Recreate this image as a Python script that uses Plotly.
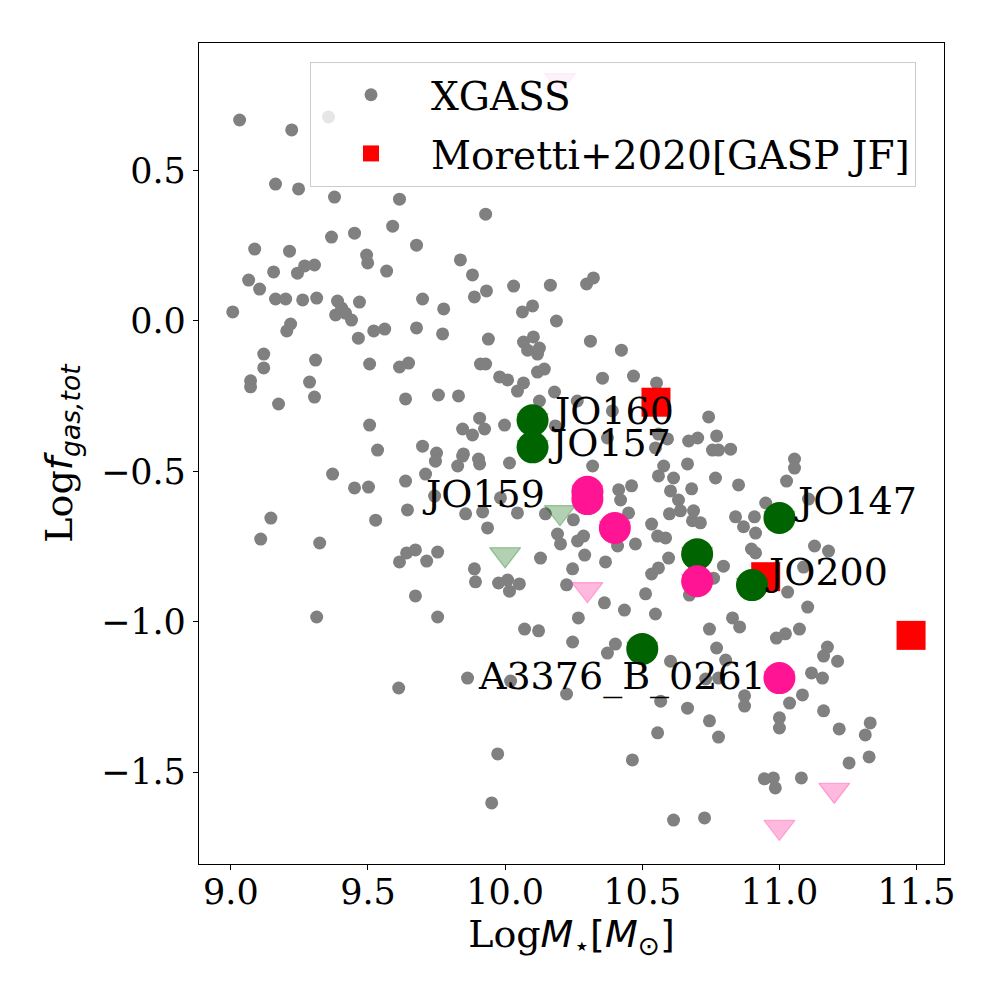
import plotly.graph_objects as go

# ── Data ───────────────────────────────────────────────────────────────────
xgass_mass = [
    9.032, 9.222, 9.356, 9.163, 9.247, 9.378, 9.615, 9.590, 9.451, 9.367,
    9.677, 9.087, 9.214, 9.495, 9.499, 9.568, 9.305, 9.269, 9.243, 9.156,
    9.065, 9.105, 9.163, 9.200, 9.262, 9.313, 9.389, 9.469, 9.699, 9.776,
    9.007, 9.404, 9.418, 9.382, 9.440, 9.218, 9.204, 9.521, 9.561, 9.465,
    9.677, 9.772, 9.120, 9.120, 9.309, 9.506, 9.615, 9.648, 9.072, 9.072,
    9.287, 9.305, 9.174, 9.637, 9.757, 9.506, 9.535, 9.699, 9.750, 9.746,
    9.371, 9.451, 9.502, 9.637, 9.710, 9.743, 9.644, 9.528, 9.146, 9.109,
    9.324, 9.615, 9.641, 9.673, 9.714, 9.754, 9.673, 9.313, 9.754, 9.612,
    9.929, 9.837, 9.881, 9.932, 9.888, 10.031, 10.165, 10.297, 10.322, 10.063,
    10.100, 10.187, 9.939, 10.067, 10.103, 10.082, 10.125, 10.118, 10.311, 10.424,
    9.910, 9.929, 10.118, 10.143, 9.980, 10.009, 10.067, 10.045, 10.355, 10.468,
    10.552, 10.180, 9.830, 10.125, 9.907, 9.998, 9.845, 9.881, 9.925, 10.183,
    10.263, 10.391, 10.373, 10.559, 10.592, 10.548, 9.848, 9.903, 10.669, 10.742,
    10.016, 9.907, 9.827, 9.845, 10.319, 10.578, 10.559, 10.614, 10.665, 10.461,
    10.414, 10.421, 10.603, 10.632, 10.639, 10.599, 9.983, 9.856, 9.918, 10.045,
    10.147, 10.249, 9.936, 10.450, 10.534, 10.191, 10.202, 10.264, 10.286, 10.410,
    10.475, 10.556, 10.585, 10.129, 10.290, 10.366, 10.596, 9.888, 9.892, 10.246,
    10.559, 10.534, 9.976, 10.009, 10.016, 10.052, 10.224, 10.512, 10.362, 10.435,
    10.548, 10.267, 10.071, 10.122, 10.246, 10.373, 10.402, 10.603, 9.863, 10.020,
    10.224, 10.567, 10.665, 10.702, 10.771, 10.756, 10.778, 10.822, 11.055, 11.055,
    10.767, 11.026, 10.851, 10.680, 10.950, 11.106, 10.687, 10.712, 10.683, 10.840,
    10.869, 10.909, 10.913, 10.898, 10.913, 11.128, 11.179, 11.088, 10.796, 10.760,
    10.672, 10.891, 11.030, 11.103, 10.829, 10.855, 10.745, 11.073, 10.989, 11.022,
    10.771, 11.175, 11.161, 11.212, 10.804, 11.117, 11.157, 10.731, 10.778, 10.873,
    10.873, 11.084, 11.037, 11.000, 11.000, 11.161, 10.745, 10.778, 11.218, 11.331,
    11.313, 11.327, 11.254, 10.945, 10.978, 10.985, 11.080, 10.727, 10.556, 9.973,
    10.464, 9.951, 10.614,
]
xgass_fgas = [
    0.668, 0.635, 0.678, 0.455, 0.439, 0.412, 0.405, 0.315, 0.292, 0.279,
    0.252, 0.239, 0.232, 0.219, 0.193, 0.166, 0.186, 0.183, 0.159, 0.163,
    0.136, 0.106, 0.073, 0.073, 0.070, 0.076, 0.066, 0.063, 0.073, 0.040,
    0.030, 0.043, 0.026, 0.020, 0.003, -0.010, -0.033, -0.033, -0.027, -0.057,
    -0.023, -0.043, -0.110, -0.156, -0.130, -0.143, -0.153, -0.140, -0.199, -0.219,
    -0.203, -0.253, -0.276, -0.259, -0.246, -0.346, -0.429, -0.416, -0.439, -0.466,
    -0.509, -0.555, -0.552, -0.532, -0.509, -0.582, -0.628, -0.662, -0.655, -0.725,
    -0.738, -0.801, -0.771, -0.761, -0.798, -0.768, -0.914, -0.984, -0.984, -1.220,
    0.355, 0.203, 0.153, 0.100, 0.080, 0.116, 0.119, 0.123, 0.143, 0.030,
    0.050, 0.000, -0.060, -0.070, -0.053, -0.097, -0.090, -0.110, -0.067, -0.097,
    -0.143, -0.143, -0.170, -0.160, -0.186, -0.196, -0.206, -0.233, -0.190, -0.183,
    -0.206, -0.236, -0.249, -0.266, -0.323, -0.346, -0.359, -0.379, -0.359, -0.349,
    -0.266, -0.299, -0.389, -0.376, -0.392, -0.422, -0.442, -0.459, -0.399, -0.319,
    -0.472, -0.475, -0.482, -0.449, -0.482, -0.482, -0.515, -0.522, -0.475, -0.548,
    -0.561, -0.595, -0.565, -0.595, -0.631, -0.641, -0.588, -0.641, -0.635, -0.638,
    -0.641, -0.661, -0.688, -0.638, -0.675, -0.708, -0.741, -0.731, -0.715, -0.748,
    -0.741, -0.715, -0.721, -0.788, -0.778, -0.801, -0.788, -0.824, -0.867, -0.824,
    -0.821, -0.841, -0.871, -0.861, -0.898, -0.874, -0.877, -0.907, -0.937, -0.961,
    -0.974, -0.987, -1.024, -1.030, -1.067, -1.104, -1.074, -1.131, -1.187, -1.197,
    -1.240, -1.264, -1.287, -0.389, -0.382, -0.429, -0.429, -0.426, -0.459, -0.489,
    -0.522, -0.532, -0.545, -0.558, -0.605, -0.592, -0.631, -0.671, -0.664, -0.651,
    -0.684, -0.651, -0.705, -0.758, -0.771, -0.748, -0.765, -0.818, -0.815, -0.855,
    -0.911, -0.901, -0.901, -0.951, -0.987, -1.017, -1.024, -1.024, -1.054, -1.040,
    -1.087, -1.084, -1.114, -1.131, -1.127, -1.170, -1.187, -1.190, -1.187, -1.246,
    -1.280, -1.243, -1.270, -1.319, -1.353, -1.296, -1.329, -1.383, -1.356, -1.336,
    -1.376, -1.449, -1.469, -1.522, -1.519, -1.552, -1.519, -1.652, -1.369, -1.439,
    -1.459, -1.602, -1.659,
]

moretti_mass = [10.55, 10.95, 11.48]
moretti_fgas = [-0.27, -0.85, -1.045]

# galaxies with a green (circle + faint triangle) marker
green_mass = [10.10, 10.10, 11.00, 10.70, 10.90, 10.50]
green_fgas = [-0.33, -0.42, -0.655, -0.775, -0.878, -1.09]
# galaxies with a pink marker
pink_mass = [10.30, 10.30, 10.40, 10.70, 11.00]
pink_fgas = [-0.568, -0.592, -0.688, -0.865, -1.187]
# triangles with no circle on top
green_tri_mass = [10.20, 10.00]
green_tri_fgas = [-0.636, -0.776]
pink_tri_mass = [10.20, 10.30, 11.20, 11.00]
pink_tri_fgas = [0.80, -0.892, -1.559, -1.682]

labels = ["JO160", "JO157", "JO159", "JO147", "JO200", "A3376_B_0261"]
label_x = [10.16, 10.15, 9.69, 11.045, 10.94, 9.895]
label_y = [-0.30, -0.405, -0.575, -0.598, -0.834, -1.183]

x_ticks = [9.0, 9.5, 10.0, 10.5, 11.0, 11.5]
x_ticktext = ["9.0", "9.5", "10.0", "10.5", "11.0", "11.5"]
y_ticks = [0.5, 0.0, -0.5, -1.0, -1.5]
y_ticktext = ["0.5", "0.0", "\u22120.5", "\u22121.0", "\u22121.5"]

SERIF = "DejaVu Serif"
SANS = "DejaVu Sans"

fig = go.Figure()

fig.add_trace(go.Scatter(
    x=xgass_mass, y=xgass_fgas, mode="markers", name="XGASS",
    marker=dict(color="#808080", size=13), legendgroup="a",
))
fig.add_trace(go.Scatter(
    x=moretti_mass, y=moretti_fgas, mode="markers", name="Moretti+2020[GASP JF]",
    marker=dict(color="#ff0000", size=29, symbol="square"), legendgroup="b",
))

tri_green = "rgba(0,100,0,0.3)"
tri_pink = "rgba(255,20,147,0.3)"
for xs, ys, col in [(green_mass + green_tri_mass, green_fgas + green_tri_fgas, tri_green),
                    (pink_mass + pink_tri_mass, pink_fgas + pink_tri_fgas, tri_pink)]:
    fig.add_trace(go.Scatter(
        x=xs, y=ys, mode="markers", showlegend=False,
        marker=dict(color=col, size=27, symbol="triangle-down",
                    line=dict(color=col, width=1.2)),
    ))

fig.add_trace(go.Scatter(
    x=green_mass, y=green_fgas, mode="markers", showlegend=False,
    marker=dict(color="#006400", size=32),
))
fig.add_trace(go.Scatter(
    x=pink_mass, y=pink_fgas, mode="markers", showlegend=False,
    marker=dict(color="#ff1493", size=32),
))

for t, lx, ly in zip(labels, label_x, label_y):
    fig.add_annotation(x=lx, y=ly, text=t, showarrow=False,
                       xanchor="left", yanchor="middle",
                       font=dict(family=SERIF, size=38, color="black"))

axis_common = dict(
    showline=True, mirror=True, linecolor="black", linewidth=1.2,
    ticks="outside", ticklen=5, tickwidth=1.2, tickcolor="black",
    showgrid=False, zeroline=False,
    tickfont=dict(family=SERIF, size=35, color="black"),
)

fig.update_xaxes(
    range=[8.884, 11.6], tickvals=x_ticks, ticktext=x_ticktext,
    ticklabelstandoff=-8,
    title=dict(text=f"Log<span style='font-family:{SANS}'><i>M</i><sub>\u22c6</sub>[<i>M</i><sub>\u2299</sub>]</span>",
               font=dict(family=SERIF, size=38, color="black"), standoff=2),
    **axis_common,
)
fig.update_yaxes(
    range=[-1.805, 0.924], tickvals=y_ticks, ticktext=y_ticktext,
    title=dict(text=f"Log<span style='font-family:{SANS}'><i>f</i><sub><i>gas,tot</i></sub></span>",
               font=dict(family=SERIF, size=38, color="black"), standoff=16),
    **axis_common,
)

fig.update_layout(
    width=1000, height=1000, autosize=False,
    margin=dict(l=191, r=64, t=35, b=144),
    plot_bgcolor="white", paper_bgcolor="white",
    legend=dict(
        x=0.149, y=0.977, xanchor="left", yanchor="top",
        bgcolor="rgba(255,255,255,0.8)", bordercolor="#cccccc", borderwidth=1,
        font=dict(family=SERIF, size=39, color="black"),
        itemwidth=110, tracegroupgap=5, traceorder="grouped",
    ),
)

fig.write_html("out.html")
